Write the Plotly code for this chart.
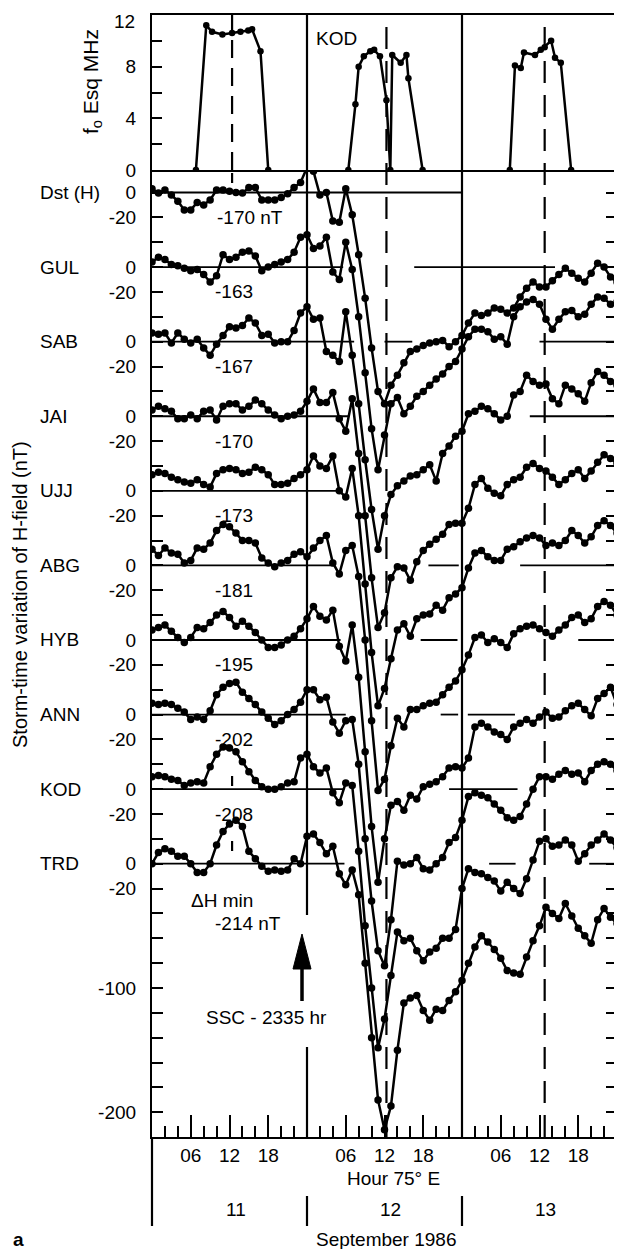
import plotly.graph_objects as go

# ---------------- data ----------------
HOURS = list(range(73))  # hours (75°E LT) from 11 Sep 00h to 13 Sep 24h

DST = [3, -0.5, 2, -2, -7, -14, -14, -8, -10, -6, 2, 2, 1, 0, -0.5, 4, 4, -6, -6, -6, -4, -1, 4, 8,
       20, 17, -2, 0, -23, -24, 3, -18, -50, -85, -125, -160, -170, -155, -147, -137, -128, -126, -123, -121, -120, -119, -124, -120,
       -115, -105, -97, -99, -97, -93, -94, -97, -93, -84, -77, -72, -76, -76, -71, -66, -61, -65, -69, -72, -65, -57, -60, -68, -72]
GUL = [4, 8, 6, 2, 1, -1, -3, -2, -6, -12, -7, 10, 6, 8, 12, 13, 9, -3, 0, 2, 4, 6, 12, 24,
       26, 15, 17, 24, -4, -10, 20, -2, -40, -85, -130, -163, -135, -110, -105, -118, -112, -104, -100, -95, -90, -86, -80, -76,
       -66, -56, -50, -50, -52, -58, -56, -62, -40, -32, -28, -26, -30, -42, -50, -42, -36, -35, -40, -38, -30, -24, -25, -30, -28]
SAB = [7, 6, 7, -1, 7, 2, -1, 2, -5, -11, -2, 5, 12, 11, 13, 19, 15, 5, 6, -1, 0, 0, 9, 23,
       28, 18, 19, -8, -11, -16, 24, -11, -50, -95, -135, -167, -140, -123, -116, -112, -108, -107, -103, -99, -112, -90, -84, -76,
       -72, -58, -56, -52, -54, -58, -63, -60, -43, -40, -27, -32, -35, -34, -46, -50, -35, -38, -42, -48, -33, -24, -27, -32, -35]
JAI = [5, 8, 6, 4, -2, -2, 1, -2, 4, 5, -3, 8, 10, 10, 5, 8, 13, 10, 5, 1, -2, 0, 1, 4,
       12, 22, 11, 11, 19, -2, -12, 14, -30, -80, -130, -170, -158, -130, -121, -122, -132, -117, -108, -103, -99, -95, -87, -86,
       -86, -74, -55, -50, -58, -62, -64, -55, -51, -49, -41, -38, -42, -44, -49, -55, -51, -46, -43, -50, -44, -37, -31, -34, -38]
UJJ = [13, 15, 14, 11, 9, 7, 6, 9, 5, 3, 14, 17, 18, 17, 14, 15, 19, 17, 13, 5, 5, 6, 10, 13,
       17, 28, 20, 18, 28, 0, -5, 18, -20, -75, -130, -173, -159, -135, -112, -107, -117, -103, -100, -99, -92, -96, -86, -83,
       -78, -62, -50, -48, -53, -56, -56, -47, -45, -41, -38, -36, -38, -44, -42, -44, -40, -32, -36, -42, -37, -28, -24, -28, -34]
ABG = [13, 8, 14, 10, 9, 2, 4, 14, 13, 18, 28, 33, 31, 26, 20, 20, 18, 6, 2, -1, 2, 4, 9, 11,
       7, 14, 20, 24, 2, -7, 12, 16, -9, -60, -125, -181, -172, -145, -123, -130, -116, -116, -113, -111, -110, -104, -98, -93,
       -84, -72, -58, -56, -62, -59, -62, -66, -55, -51, -49, -48, -51, -54, -57, -52, -48, -42, -40, -46, -43, -33, -29, -32, -40]
HYB = [8, 10, 12, 7, 2, -2, 2, 10, 9, 14, 20, 23, 18, 11, 15, 11, 6, 0, -6, -6, -4, 0, 3, 9,
       17, 27, 19, 16, 24, -5, -17, 12, -30, -90, -150, -195, -160, -133, -130, -137, -125, -128, -118, -116, -114, -110, -103, -102,
       -103, -95, -70, -67, -70, -74, -76, -80, -70, -67, -64, -67, -62, -58, -63, -62, -57, -53, -51, -56, -61, -47, -43, -38, -52]
ANN = [9, 8, 9, 8, 5, 2, -4, -2, -4, 3, 16, 22, 25, 26, 18, 13, 8, 2, -3, -8, -5, 0, 4, 10,
       20, 20, 12, 14, -6, -15, -5, -4, -40, -100, -150, -190, -202, -165, -118, -121, -120, -115, -124, -125, -120, -115, -103, -99,
       -85, -66, -63, -65, -67, -72, -77, -83, -85, -82, -72, -60, -50, -50, -52, -48, -45, -48, -47, -54, -45, -40, -38, -40, -45]
KOD = [10, 11, 10, 8, 7, 3, 5, 6, 5, 18, 28, 34, 33, 30, 22, 14, 7, 2, 0, 0, 2, 5, 6, 25,
       28, 18, 13, 17, -3, -11, 5, 3, -50, -110, -160, -208, -185, -150, -115, -122, -120, -130, -138, -131, -128, -120, -120, -113,
       -80, -64, -67, -68, -71, -74, -82, -75, -80, -84, -72, -57, -42, -40, -46, -45, -41, -45, -58, -52, -45, -41, -36, -41, -47]
TRD = [0, 9, 12, 10, 6, 6, 0, -7, -7, 0, 15, 26, 32, 35, 30, 10, 4, -2, -6, -5, -6, -5, 4, 0,
       22, 24, 17, 8, 14, -8, -17, -5, -25, -80, -140, -190, -214, -195, -150, -112, -108, -106, -118, -126, -117, -118, -110, -103,
       -94, -80, -67, -58, -63, -69, -76, -86, -88, -89, -75, -62, -50, -35, -40, -44, -32, -42, -52, -58, -64, -45, -36, -43, -48]

STATION_NAMES = ["Dst (H)", "GUL", "SAB", "JAI", "UJJ", "ABG", "HYB", "ANN", "KOD", "TRD"]
MIN_LABELS = ["-170 nT", "-163", "-167", "-170", "-173", "-181", "-195", "-202", "-208"]
STACK_STEP = 60  # nT between successive station baselines

# KOD foEsq (MHz), top panel
ES_HOURS = [6.8, 8.4, 9.3, 10.9, 12.4, 13.7, 14.9, 15.5, 16.8, 18.0, None,
            30.4, 31.5, 32.0, 32.8, 33.8, 34.4, 35.3, 36.3, 36.9, 37.2, 38.5, 39.4, 39.7, 41.9, None,
            55.4, 56.2, 57.1, 57.6, 59.3, 60.2, 60.8, 61.8, 62.4, 63.3, 64.9]
ES_FREQ = [0, 11.2, 10.7, 10.5, 10.6, 10.7, 10.8, 10.9, 9.2, 0, None,
           0, 5.1, 8.0, 8.8, 9.2, 9.3, 8.8, 5.4, 0, 8.9, 8.3, 8.9, 7.1, 0, None,
           0, 8.1, 7.9, 9.1, 8.9, 9.3, 9.5, 10.0, 8.7, 8.3, 0]

# ---------------- geometry (pixel positions as seen in the window) ----------------
WIN_W, WIN_H = 622, 1249
OFF = 8                       # page body margin of the browser
PL, PR, PT, PB = 152, 617, 15, 1137
SPLIT = 170
ZERO_PX = 192.5
PX_PER_NT = 1.243
FONT = "Liberation Sans, Arial, Helvetica, sans-serif"
FS = 19


def paper_x(px):
    return (px - PL) / (PR - PL)


def paper_y(py):
    return (PB - py) / (PB - PT)


def hour_of(px):
    return (px - PL) / (PR - PL) * 72


def nt_of(py):
    return (ZERO_PX - py) / PX_PER_NT


Y_TOP = nt_of(SPLIT)
Y_BOT = nt_of(PB)
SERIES = [DST, GUL, SAB, JAI, UJJ, ABG, HYB, ANN, KOD, TRD]

fig = go.Figure()

for i, vals in enumerate(SERIES):
    fig.add_trace(go.Scatter(
        x=HOURS, y=[v - STACK_STEP * i for v in vals], mode="lines+markers",
        line=dict(color="black", width=2.5), marker=dict(color="black", size=7.5),
        xaxis="x", yaxis="y", showlegend=False, hoverinfo="skip"))

fig.add_trace(go.Scatter(
    x=ES_HOURS, y=ES_FREQ, mode="lines+markers", connectgaps=False,
    line=dict(color="black", width=2.5), marker=dict(color="black", size=6.5),
    xaxis="x2", yaxis="y2", showlegend=False, hoverinfo="skip"))

# ---- y ticks of the stacked panel ----
tickvals, ticktext = [], []
for i in range(9):
    for k, t in enumerate(["0", "-20", " "]):
        tickvals.append(-STACK_STEP * i - 20 * k)
        ticktext.append(t)
for k in range(0, 11):
    v = -STACK_STEP * 9 - 20 * k
    tickvals.append(v)
    ticktext.append({0: "0", 1: "-20", 5: "-100", 10: "-200"}.get(k, " "))

major_x = [6, 12, 18, 30, 36, 42, 54, 60, 66]
minor_x = [h for h in range(2, 72, 2) if h % 6 != 0]

axis_common = dict(showgrid=False, zeroline=False, showline=True, linecolor="black", linewidth=2.2,
                   automargin=False)

fig.update_layout(
    width=WIN_W - OFF, height=WIN_H - OFF,
    margin=dict(l=PL - OFF, r=WIN_W - PR, t=PT - OFF, b=WIN_H - PB, pad=0),
    paper_bgcolor="white", plot_bgcolor="white",
    font=dict(family=FONT, size=FS, color="black"),
    xaxis=dict(domain=[0, 1], anchor="y", range=[0, 72], **axis_common,
               tickmode="array", tickvals=major_x, ticktext=["06", "12", "18"] * 3,
               ticks="inside", ticklen=22, tickwidth=1.8, tickcolor="black",
               tickfont=dict(size=FS), ticklabelstandoff=0,
               minor=dict(tickmode="array", tickvals=minor_x, ticks="inside", ticklen=11,
                          tickwidth=1.8, tickcolor="black")),
    yaxis=dict(domain=[0, paper_y(SPLIT)], anchor="x", range=[Y_BOT, Y_TOP], **axis_common,
               mirror="ticks", tickmode="array", tickvals=tickvals, ticktext=ticktext,
               ticks="inside", ticklen=11, tickwidth=1.8, tickcolor="black",
               ticklabelstandoff=10, tickfont=dict(size=FS)),
    xaxis2=dict(domain=[0, 1], anchor="y2", range=[0, 72], matches="x", **axis_common,
                mirror=True, showticklabels=False, ticks=""),
    yaxis2=dict(domain=[paper_y(SPLIT), 1], anchor="x2", range=[0, 12], **axis_common,
                mirror=True, tickmode="array", tickvals=[0, 2, 4, 6, 8, 10, 12],
                ticktext=["0", " ", "4", " ", "8", " ", " "], ticks="inside", ticklen=10,
                tickwidth=1.8, tickcolor="black", ticklabelstandoff=10, tickfont=dict(size=FS)),
)

shapes = []
# baseline (zero) segments for each station, hour ranges
ZERO_SEGMENTS = [
    [(0, 48)],
    [(0, 29.6), (40.6, 62.4)],
    [(0, 31.3), (36, 40.3), (60, 72)],
    [(0, 30.4), (58.5, 72)],
    [(0, 29.2)],
    [(0, 28), (42.8, 47.5), (57, 72)],
    [(0, 29.2), (41.6, 47.3), (66, 72)],
    [(0, 30), (44.7, 47.4), (48.9, 56.2)],
    [(0, 29.8), (46, 56.6)],
    [(0, 29.8), (52.2, 56.3), (67.7, 72)],
]
for i, segs in enumerate(ZERO_SEGMENTS):
    for a, b in segs:
        shapes.append(dict(type="line", xref="x", yref="y", x0=a, x1=b,
                           y0=-STACK_STEP * i, y1=-STACK_STEP * i, layer="below",
                           line=dict(color="black", width=1.8)))

# day boundaries
shapes.append(dict(type="line", xref="x", yref="paper", x0=24, x1=24, y0=paper_y(915), y1=1,
                   line=dict(color="black", width=2.2)))
shapes.append(dict(type="line", xref="x", yref="paper", x0=24, x1=24, y0=0, y1=paper_y(1047),
                   line=dict(color="black", width=2.2)))
shapes.append(dict(type="line", xref="x", yref="paper", x0=48, x1=48, y0=0, y1=1,
                   line=dict(color="black", width=2.2)))

# noon (dashed) markers
shapes.append(dict(type="line", xref="x", yref="y2", x0=12.4, x1=12.4, y0=0, y1=12, layer="below",
                   line=dict(color="black", width=2.2, dash="18px,10px")))
for hx in (36.3, 60.8):
    shapes.append(dict(type="line", xref="x", yref="paper", x0=hx, x1=hx, y0=0, y1=1, layer="below",
                       line=dict(color="black", width=2.2, dash="22px,12px")))
for py0, py1 in ((173, 183), (776, 786), (841, 851)):
    shapes.append(dict(type="line", xref="x", yref="paper", x0=12.4, x1=12.4,
                       y0=paper_y(py1), y1=paper_y(py0), line=dict(color="black", width=2.2)))

# frame extensions below the hour axis and day separators
for xp in (0, 1):
    shapes.append(dict(type="line", xref="paper", yref="paper", x0=xp, x1=xp,
                       y0=paper_y(1226), y1=0, line=dict(color="black", width=2.2)))
for hx in (24, 48):
    shapes.append(dict(type="line", xref="x", yref="paper", x0=hx, x1=hx,
                       y0=paper_y(1226), y1=paper_y(1196), line=dict(color="black", width=2.2)))

# SSC arrow
arrow_h = hour_of(302)
half = hour_of(302 + 9) - arrow_h
shapes.append(dict(type="line", xref="x", yref="paper", x0=arrow_h, x1=arrow_h,
                   y0=paper_y(1001), y1=paper_y(962), line=dict(color="black", width=3.5)))
shapes.append(dict(type="path", xref="x", yref="paper", fillcolor="black", line=dict(color="black", width=1),
                   path=f"M {arrow_h - half} {paper_y(969)} L {arrow_h + half} {paper_y(969)} "
                        f"L {arrow_h} {paper_y(934)} Z"))

annotations = []
# top tick label "12" of the foEsq axis (kept inside the page)
annotations.append(dict(xref="paper", yref="paper", x=paper_x(137), y=paper_y(21), text="12",
                        xanchor="right", yanchor="middle", showarrow=False, font=dict(size=FS)))
label_x = paper_x(38)
for i, name in enumerate(STATION_NAMES):
    annotations.append(dict(xref="paper", yref="y", x=label_x, y=-STACK_STEP * i, text=name,
                            xanchor="left", yanchor="middle", showarrow=False, font=dict(size=FS)))
for i, lab in enumerate(MIN_LABELS):
    hx = hour_of(250) if i == 0 else hour_of(234)
    annotations.append(dict(xref="x", yref="y", x=hx, y=-STACK_STEP * i - 20, text=lab,
                            xanchor="center", yanchor="middle", showarrow=False, font=dict(size=FS)))

extra = [
    ("\u0394H min", hour_of(222), nt_of(900)),
    ("-214 nT", hour_of(248), nt_of(923)),
    ("SSC - 2335 hr", hour_of(266), nt_of(1017)),
]
for txt, xx, yy in extra:
    annotations.append(dict(xref="x", yref="y", x=xx, y=yy, text=txt, showarrow=False,
                            xanchor="center", yanchor="middle", font=dict(size=FS)))

annotations.append(dict(xref="x", yref="y2", x=hour_of(314), y=(SPLIT - 38) / ((SPLIT - PT) / 12),
                        text="KOD", xanchor="left", yanchor="middle", showarrow=False, font=dict(size=FS)))
annotations.append(dict(xref="paper", yref="paper", x=paper_x(393), y=paper_y(1178), text="Hour 75\u00b0 E",
                        showarrow=False, xanchor="center", yanchor="middle", font=dict(size=FS)))
for txt, px in (("11", 236), ("12", 390), ("13", 545)):
    annotations.append(dict(xref="paper", yref="paper", x=paper_x(px), y=paper_y(1210), text=txt,
                            showarrow=False, xanchor="center", yanchor="middle", font=dict(size=FS)))
annotations.append(dict(xref="paper", yref="paper", x=paper_x(386), y=paper_y(1239), text="September 1986",
                        showarrow=False, xanchor="center", yanchor="middle", font=dict(size=FS)))
annotations.append(dict(xref="paper", yref="paper", x=paper_x(11), y=paper_y(1239), text="<b>a</b>",
                        showarrow=False, xanchor="left", yanchor="middle", font=dict(size=FS)))
annotations.append(dict(xref="paper", yref="paper", x=paper_x(20), y=paper_y(595),
                        text="Storm-time variation of H-field (nT)", textangle=-90,
                        showarrow=False, xanchor="center", yanchor="middle", font=dict(size=20)))
annotations.append(dict(xref="paper", yref="paper", x=paper_x(92), y=paper_y(82),
                        text="f<sub>o</sub> Esq MHz", textangle=-90,
                        showarrow=False, xanchor="center", yanchor="middle", font=dict(size=21)))

fig.update_layout(shapes=shapes, annotations=annotations)
fig.write_html("out.html")
